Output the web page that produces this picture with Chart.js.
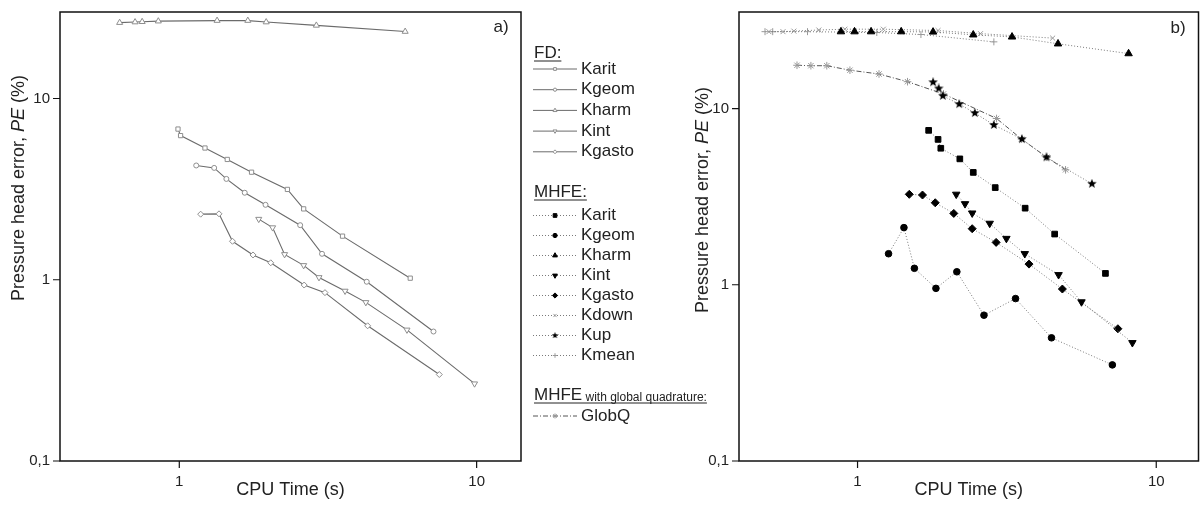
<!DOCTYPE html>
<html>
<head>
<meta charset="utf-8">
<script src="https://cdn.jsdelivr.net/npm/chart.js@4.4.0/dist/chart.umd.min.js"></script>
<style>
html, body { margin: 0; padding: 0; background: #fff; }
#wrap { position: relative; width: 1200px; height: 505px; overflow: hidden; }
#chartA { position: absolute; left: 0; top: 0; }
#chartB { position: absolute; left: 690px; top: 0; }
</style>
</head>
<body>
<div id="wrap">
<canvas id="chartA" width="720" height="505"></canvas>
<canvas id="chartB" width="520" height="505"></canvas>
</div>
<script>
// ---- panel a) FD ----
const fdKaritX  = [0.99, 1.01, 1.22, 1.45, 1.75, 2.31, 2.62, 3.54, 5.98];
const fdKaritY  = [6.78, 6.24, 5.33, 4.61, 3.92, 3.15, 2.46, 1.74, 1.02];
const fdKgeomX  = [1.14, 1.31, 1.44, 1.66, 1.95, 2.55, 3.02, 4.27, 7.16];
const fdKgeomY  = [4.27, 4.14, 3.60, 3.02, 2.59, 2.00, 1.39, 0.975, 0.518];
const fdKharmX  = [0.63, 0.71, 0.75, 0.85, 1.34, 1.70, 1.96, 2.89, 5.75];
const fdKharmY  = [26.2, 26.4, 26.5, 26.7, 26.9, 26.9, 26.4, 25.3, 23.4];
const fdKintX   = [1.85, 2.06, 2.26, 2.62, 2.95, 3.61, 4.24, 5.83, 9.84];
const fdKintY   = [2.16, 1.94, 1.38, 1.20, 1.03, 0.867, 0.750, 0.529, 0.267];
const fdKgastoX = [1.18, 1.36, 1.51, 1.77, 2.03, 2.63, 3.09, 4.30, 7.49];
const fdKgastoY = [2.30, 2.31, 1.63, 1.37, 1.24, 0.935, 0.849, 0.557, 0.30];

// ---- panel b) MHFE ----
const mhKaritX  = [1.73, 1.86, 1.90, 2.20, 2.44, 2.89, 3.64, 4.57, 6.76];
const mhKaritY  = [7.52, 6.68, 5.95, 5.18, 4.34, 3.56, 2.72, 1.94, 1.16];
const mhKgeomX  = [1.27, 1.43, 1.55, 1.83, 2.15, 2.65, 3.38, 4.46, 7.13];
const mhKgeomY  = [1.50, 2.11, 1.24, 0.954, 1.185, 0.672, 0.835, 0.50, 0.351];
const mhKharmX  = [0.88, 0.977, 1.11, 1.40, 1.79, 2.44, 3.29, 4.69, 8.08];
const mhKharmY  = [27.3, 27.3, 27.3, 27.3, 27.2, 26.2, 25.5, 23.3, 20.5];
const mhKintX   = [2.14, 2.29, 2.42, 2.77, 3.15, 3.63, 4.71, 5.62, 8.32];
const mhKintY   = [3.26, 2.88, 2.55, 2.23, 1.83, 1.50, 1.14, 0.799, 0.469];
const mhKgastoX = [1.49, 1.65, 1.82, 2.10, 2.42, 2.91, 3.75, 4.85, 7.44];
const mhKgastoY = [3.26, 3.23, 2.92, 2.54, 2.08, 1.74, 1.31, 0.946, 0.563];
const mhKdownX  = [0.505, 0.563, 0.612, 0.742, 0.907, 1.22, 1.86, 2.58, 4.50];
const mhKdownY  = [27.3, 27.3, 27.5, 27.9, 28.2, 28.2, 27.7, 26.6, 25.1];
const mhKupX    = [1.79, 1.87, 1.93, 2.19, 2.47, 2.86, 3.55, 4.29, 6.09];
const mhKupY    = [14.1, 13.0, 11.8, 10.6, 9.43, 8.07, 6.71, 5.29, 3.74];
const mhKmeanX  = [0.49, 0.52, 0.68, 1.16, 1.63, 2.86];
const mhKmeanY  = [27.3, 27.3, 27.3, 27.0, 26.3, 23.9];
const globQX    = [0.627, 0.698, 0.789, 0.943, 1.18, 1.47, 1.94, 2.92, 3.54, 4.30, 4.97];
const globQY    = [17.6, 17.5, 17.5, 16.5, 15.7, 14.2, 12.1, 8.78, 6.71, 5.29, 4.49];

// axes
const yMajor = [0.1, 1, 10];
const yTickLabels = ['0,1', '1', '10'];
const xMajor = [1, 10];
const xTickLabels = ['1', '10'];

const FONT = '"Liberation Sans", Arial, sans-serif';
const TEXT = '#222';

function pts(xs, ys) {
  return xs.map((x, i) => ({ x: x, y: ys[i] }));
}

function starImage(size, color) {
  const c = document.createElement('canvas');
  c.width = size; c.height = size;
  const g = c.getContext('2d');
  const r = size / 2, ri = r * 0.42;
  g.fillStyle = color;
  g.beginPath();
  for (let i = 0; i < 10; i++) {
    const a = -Math.PI / 2 + i * Math.PI / 5;
    const rr = i % 2 ? ri : r;
    g.lineTo(r + rr * Math.cos(a), r + rr * Math.sin(a));
  }
  g.closePath();
  g.fill();
  return c;
}

function fdSet(label, xs, ys, style, rot, rad) {
  return {
    label: label, data: pts(xs, ys), showLine: true,
    borderColor: '#6b6b6b', borderWidth: 1.1,
    pointStyle: style, pointRotation: rot || 0, pointRadius: rad || 3,
    pointBorderColor: '#8e8e8e', pointBackgroundColor: '#fff', pointBorderWidth: 1
  };
}

function mhSet(label, xs, ys, style, color, rot, rad) {
  return {
    label: label, data: pts(xs, ys), showLine: true,
    borderColor: '#7a7a7a', borderWidth: 1, borderDash: [1, 2],
    pointStyle: style, pointRotation: rot || 0, pointRadius: rad || 3.5,
    pointBorderColor: color, pointBackgroundColor: color, pointBorderWidth: 1
  };
}

const fdSets = [
  fdSet('Karit', fdKaritX, fdKaritY, 'rect', 0, 3),
  fdSet('Kgeom', fdKgeomX, fdKgeomY, 'circle', 0, 2.5),
  fdSet('Kharm', fdKharmX, fdKharmY, 'triangle', 0, 3.5),
  fdSet('Kint', fdKintX, fdKintY, 'triangle', 180, 3.5),
  fdSet('Kgasto', fdKgastoX, fdKgastoY, 'rectRot', 0, 3)
];

const mhSets = [
  mhSet('Karit', mhKaritX, mhKaritY, 'rect', '#000', 0, 4),
  mhSet('Kgeom', mhKgeomX, mhKgeomY, 'circle', '#000', 0, 3.3),
  mhSet('Kharm', mhKharmX, mhKharmY, 'triangle', '#000', 0, 4.3),
  mhSet('Kint', mhKintX, mhKintY, 'triangle', '#000', 180, 4.3),
  mhSet('Kgasto', mhKgastoX, mhKgastoY, 'rectRot', '#000', 0, 4),
  mhSet('Kdown', mhKdownX, mhKdownY, 'crossRot', '#9a9a9a', 0, 3.5),
  mhSet('Kup', mhKupX, mhKupY, starImage(10, '#000'), '#000', 0, 4),
  mhSet('Kmean', mhKmeanX, mhKmeanY, 'cross', '#9a9a9a', 0, 3.5)
];

const globSet = {
  label: 'GlobQ', data: pts(globQX, globQY), showLine: true,
  borderColor: '#555', borderWidth: 1, borderDash: [5, 2, 1, 2],
  pointStyle: 'star', pointRadius: 3.8,
  pointBorderColor: '#999', pointBackgroundColor: '#999', pointBorderWidth: 1
};

function logTicks(min, max) {
  const out = [];
  for (let e = -2; e <= 2; e++) {
    for (let m = 1; m <= 9; m++) {
      const v = +(m * Math.pow(10, e)).toPrecision(3);
      if (v >= min - 1e-9 && v <= max + 1e-9) out.push(v);
    }
  }
  return out;
}

// frame, tick marks, y title, panel letter
const framePlugin = {
  id: 'frame',
  afterDraw(chart, args, o) {
    const { ctx, chartArea: a, scales } = chart;
    ctx.save();
    ctx.strokeStyle = '#111';
    ctx.lineWidth = 1.5;
    ctx.strokeRect(a.left, a.top, a.right - a.left, a.bottom - a.top);
    ctx.lineWidth = 1.2;
    ctx.beginPath();
    scales.y.ticks.forEach(t => {
      const y = scales.y.getPixelForValue(t.value);
      const len = yMajor.includes(t.value) ? 7 : 4;
      ctx.moveTo(a.left - len, y); ctx.lineTo(a.left, y);
    });
    scales.x.ticks.forEach(t => {
      const x = scales.x.getPixelForValue(t.value);
      const len = xMajor.includes(t.value) ? 7 : 4;
      ctx.moveTo(x, a.bottom); ctx.lineTo(x, a.bottom + len);
    });
    ctx.stroke();

    // y axis title with italic PE
    const parts = [['Pressure head error, ', ''], ['PE', 'italic '], [' (%)', '']];
    ctx.fillStyle = TEXT;
    ctx.textBaseline = 'middle';
    ctx.textAlign = 'left';
    let total = 0;
    const ws = parts.map(p => { ctx.font = p[1] + '18px ' + FONT; const w = ctx.measureText(p[0]).width; total += w; return w; });
    ctx.translate(o.titleX, o.titleY);
    ctx.rotate(-Math.PI / 2);
    let x = -total / 2;
    parts.forEach((p, i) => { ctx.font = p[1] + '18px ' + FONT; ctx.fillText(p[0], x, 0); x += ws[i]; });
    ctx.setTransform(1, 0, 0, 1, 0, 0);

    ctx.font = '17px ' + FONT;
    ctx.textAlign = 'center';
    ctx.fillText(o.letter, o.letterX, o.letterY);
    ctx.restore();
  }
};

function drawEntry(ctx, ds, y) {
  ctx.save();
  ctx.strokeStyle = ds.borderColor;
  ctx.lineWidth = 1;
  ctx.setLineDash(ds.borderDash || []);
  ctx.beginPath(); ctx.moveTo(533, y); ctx.lineTo(577, y); ctx.stroke();
  ctx.setLineDash([]);
  ctx.fillStyle = ds.pointBackgroundColor;
  ctx.strokeStyle = ds.pointBorderColor;
  ctx.lineWidth = 1;
  if (Chart.helpers && Chart.helpers.drawPoint) {
    Chart.helpers.drawPoint(ctx, {
      pointStyle: typeof ds.pointStyle === 'string' ? ds.pointStyle : starImage(7, '#000'),
      rotation: ds.pointRotation || 0, radius: ds.pointRadius * 0.65, borderWidth: 1
    }, 555, y);
  }
  ctx.fillStyle = TEXT;
  ctx.font = '17px ' + FONT;
  ctx.textAlign = 'left';
  ctx.textBaseline = 'middle';
  ctx.fillText(ds.label, 581, y);
  ctx.restore();
}

function drawHeader(ctx, text, small, x, y, underlineTo) {
  ctx.save();
  ctx.fillStyle = TEXT;
  ctx.strokeStyle = TEXT;
  ctx.textBaseline = 'middle';
  ctx.textAlign = 'left';
  ctx.font = '17px ' + FONT;
  ctx.fillText(text, x, y);
  let w = ctx.measureText(text).width;
  if (small) {
    ctx.font = '12px ' + FONT;
    ctx.fillText(small, x + w, y + 3);
    w += ctx.measureText(small).width;
  }
  ctx.lineWidth = 1;
  ctx.beginPath(); ctx.moveTo(x, y + 8); ctx.lineTo(x + w, y + 8); ctx.stroke();
  ctx.restore();
}

const legendPlugin = {
  id: 'sideLegend',
  afterDraw(chart) {
    const ctx = chart.ctx;
    drawHeader(ctx, 'FD:', '', 534, 53);
    fdSets.forEach((ds, i) => drawEntry(ctx, ds, 69 + i * 20.7));
    drawHeader(ctx, 'MHFE:', '', 534, 192);
    mhSets.forEach((ds, i) => drawEntry(ctx, ds, 215.5 + i * 20));
    drawHeader(ctx, 'MHFE', ' with global quadrature:', 534, 395);
    drawEntry(ctx, globSet, 416);
  }
};

function makeOptions(xMin, xMax, yMin, yMax, yWidth, padRight, frame) {
  return {
    responsive: false,
    animation: false,
    layout: { padding: { left: 0, right: padRight, top: 9, bottom: 0 } },
    plugins: { legend: { display: false }, tooltip: { enabled: false }, frame: frame },
    scales: {
      x: {
        type: 'logarithmic', min: xMin, max: xMax,
        afterBuildTicks: s => { s.ticks = logTicks(s.min, s.max).map(v => ({ value: v })); },
        afterFit: s => { s.height = 44; },
        grid: { display: true, drawOnChartArea: false, drawTicks: true, tickLength: 7, color: 'transparent', tickColor: 'transparent' },
        border: { display: false },
        ticks: {
          autoSkip: false, maxRotation: 0, padding: 5, color: TEXT,
          font: { family: FONT, size: 15 },
          callback: v => { const i = xMajor.indexOf(v); return i >= 0 ? xTickLabels[i] : null; }
        },
        title: { display: true, text: 'CPU Time (s)', color: TEXT, font: { family: FONT, size: 18 }, padding: { top: 0, bottom: 4 } }
      },
      y: {
        type: 'logarithmic', min: yMin, max: yMax,
        afterBuildTicks: s => { s.ticks = logTicks(s.min, s.max).map(v => ({ value: v })); },
        afterFit: s => { s.width = yWidth; },
        grid: { display: true, drawOnChartArea: false, drawTicks: true, tickLength: 7, color: 'transparent', tickColor: 'transparent' },
        border: { display: false },
        ticks: {
          autoSkip: false, padding: 3, color: TEXT,
          font: { family: FONT, size: 15 },
          callback: v => { const i = yMajor.indexOf(v); return i >= 0 ? yTickLabels[i] : null; }
        }
      }
    }
  };
}

new Chart(document.getElementById('chartA'), {
  type: 'scatter',
  data: { datasets: fdSets },
  options: makeOptions(0.397, 14.1, 0.1, 30, 60, 199,
    { titleX: 19, titleY: 188, letter: 'a)', letterX: 501, letterY: 27 }),
  plugins: [framePlugin, legendPlugin]
});

new Chart(document.getElementById('chartB'), {
  type: 'scatter',
  data: { datasets: mhSets.concat([globSet]) },
  options: makeOptions(0.401, 13.85, 0.1, 35.3, 49, 11.5,
    { titleX: 13, titleY: 200, letter: 'b)', letterX: 488, letterY: 28 }),
  plugins: [framePlugin]
});
</script>
</body>
</html>
